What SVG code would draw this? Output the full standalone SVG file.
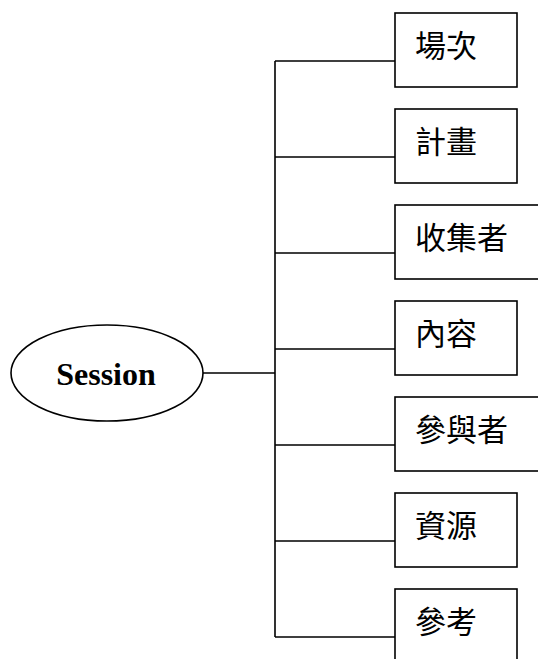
<svg xmlns="http://www.w3.org/2000/svg" width="538" height="659" viewBox="0 0 538 659">
<style>
.box{fill:#fff;stroke:#000;stroke-width:1.6}
.ln{fill:none;stroke:#000;stroke-width:1.6}
.cjk{font-family:"Noto Sans CJK TC","Noto Sans CJK SC",sans-serif;font-size:31px;fill:#000}
.main{font-family:"Liberation Serif",serif;font-size:32px;font-weight:bold;fill:#000}
</style>
<rect width="538" height="659" fill="#fff"/>
<g id="connectors">
<path class="ln" d="M203,373H275M275,61V637M275,61H395M275,157H395M275,253H395M275,349H395M275,445H395M275,541H395M275,637H395"/>
</g>
<g id="session">
<ellipse class="ln" cx="107" cy="373" rx="96" ry="48"/>
<text class="main" x="106" y="385" text-anchor="middle">Session</text>
</g>
<g id="n1"><rect class="box" x="395" y="13" width="122" height="74"/><text class="cjk" x="415" y="57">場次</text></g>
<g id="n2"><rect class="box" x="395" y="109" width="122" height="74"/><text class="cjk" x="415" y="153">計畫</text></g>
<g id="n3"><rect class="box" x="395" y="205" width="150" height="74"/><text class="cjk" x="415" y="249">收集者</text></g>
<g id="n4"><rect class="box" x="395" y="301" width="122" height="74"/><text class="cjk" x="415" y="345">內容</text></g>
<g id="n5"><rect class="box" x="395" y="397" width="150" height="74"/><text class="cjk" x="415" y="441">參與者</text></g>
<g id="n6"><rect class="box" x="395" y="493" width="122" height="74"/><text class="cjk" x="415" y="537">資源</text></g>
<g id="n7"><rect class="box" x="395" y="589" width="122" height="74"/><text class="cjk" x="415" y="633">參考</text></g>
</svg>
